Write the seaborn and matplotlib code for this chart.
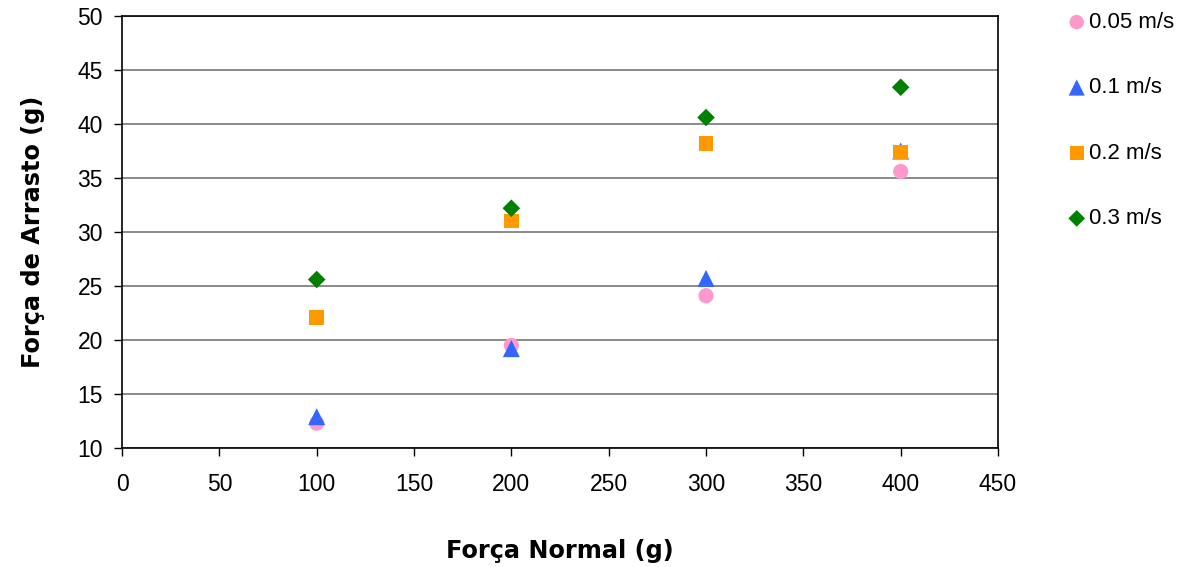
import pandas as pd
import numpy as np
import matplotlib
matplotlib.use("Agg")
import matplotlib.pyplot as plt
import seaborn as sns

# data
forca_normal = [100, 200, 300, 400]
v005 = [12.3, 19.5, 24.1, 35.6]
v01 = [12.9, 19.2, 25.7, 37.5]
v02 = [22.1, 31.0, 38.2, 37.4]
v03 = [25.6, 32.2, 40.6, 43.4]
labels = ['0.05 m/s', '0.1 m/s', '0.2 m/s', '0.3 m/s']

cores = {'0.05 m/s': '#FF99CC', '0.1 m/s': '#3366FF',
         '0.2 m/s': '#FF9900', '0.3 m/s': '#008000'}
marcadores = {'0.05 m/s': 'o', '0.1 m/s': '^', '0.2 m/s': 's', '0.3 m/s': 'D'}
tamanhos = {'0.05 m/s': 120, '0.1 m/s': 150, '0.2 m/s': 110, '0.3 m/s': 80}

df = pd.concat([
    pd.DataFrame({'Normal': forca_normal, 'Arrasto': vals, 'Velocidade': lab})
    for vals, lab in zip([v005, v01, v02, v03], labels)
], ignore_index=True)

sns.set_style('white')
plt.rcParams['font.family'] = ['Liberation Sans', 'DejaVu Sans']
plt.rcParams['text.color'] = 'black'
plt.rcParams['xtick.color'] = 'black'
plt.rcParams['ytick.color'] = 'black'
plt.rcParams['axes.labelcolor'] = 'black'

fig = plt.figure(figsize=(11.87, 5.67), dpi=100)
ax = fig.add_axes([0.1028, 0.2099, 0.7380, 0.7619])

# grid lines behind markers
ax.set_axisbelow(True)
ax.yaxis.grid(True, color='#777777', linewidth=1.2)
ax.xaxis.grid(False)

for lab in labels:
    sub = df[df['Velocidade'] == lab]
    sns.scatterplot(data=sub, x='Normal', y='Arrasto', color=cores[lab],
                    marker=marcadores[lab], s=tamanhos[lab], edgecolor='none',
                    label=lab, ax=ax, zorder=3)

ax.set_xlim(0, 450)
ax.set_ylim(10, 50)
ax.set_xticks(np.arange(0, 451, 50))
ax.set_yticks(np.arange(10, 51, 5))
ax.tick_params(axis='both', direction='out', length=5.8, width=1, color='black',
               labelsize=16.5, left=True, bottom=True, pad=8)
ax.tick_params(axis='x', pad=12)
for sp in ax.spines.values():
    sp.set_visible(True)
    sp.set_color('black')
    sp.set_linewidth(1.2)

ax.set_xlabel('Força Normal (g)', fontsize=17.3, fontweight='bold',
              family='DejaVu Sans', labelpad=31)
ax.set_ylabel('Força de Arrasto (g)', fontsize=17.3, fontweight='bold',
              family='DejaVu Sans', labelpad=23)

ax.legend(loc='upper left', bbox_to_anchor=(1.067, 1.03), frameon=False,
          fontsize=16, labelspacing=2.0, handletextpad=0.05,
          handlelength=1.0, markerscale=0.95, borderaxespad=0)

fig.savefig('out.png', dpi=100)
